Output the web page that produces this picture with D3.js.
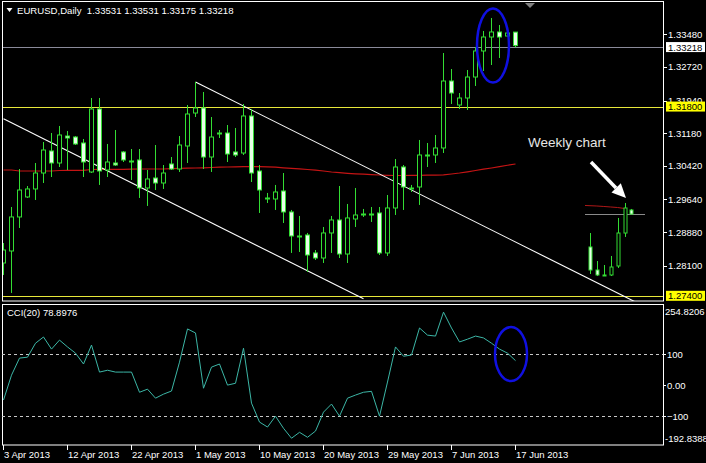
<!DOCTYPE html>
<html><head><meta charset="utf-8">
<script src="https://cdn.jsdelivr.net/npm/d3@7"></script>
<style>body{margin:0;background:#000;}svg{display:block;}</style>
</head><body><svg id="c" width="706" height="463"></svg>
<script>
// ---------------- DATA ----------------
const symbolTitle = "EURUSD,Daily";
const barOpen = [1.28163,1.28442,1.29233,1.29698,1.29884,1.30255,1.30767,1.30488,1.31115,1.31092,
 1.30953,1.30279,1.31743,1.30325,1.30488,1.30744,1.30534,1.30558,1.29907,1.30139,
 1.30023,1.30465,1.30348,1.30883,1.31650,1.31767,1.30627,1.31185,1.31185,1.30744,
 1.30720,1.31581,1.30302,1.29675,1.29651,1.29837,1.29349,1.28791,1.28814,1.28396,
 1.28279,1.28861,1.29163,1.28372,1.29186,1.29303,1.29303,1.29326,1.28396,1.29442,
 1.30395,1.29907,1.29930,1.30674,1.30674,1.30837,1.32394,1.31836,1.31999,1.32487,
 1.33092,1.33417,1.33534,1.33440,1.33531];
const barHigh = [1.28628,1.29465,1.30348,1.29953,1.30488,1.30976,1.31185,1.31348,1.31232,1.31115,
 1.31046,1.31999,1.31999,1.30930,1.31255,1.30767,1.30813,1.30813,1.30325,1.30906,
 1.30441,1.30627,1.31115,1.31836,1.32371,1.32139,1.31557,1.31255,1.31371,1.31302,
 1.31860,1.31743,1.30441,1.29791,1.29977,1.30255,1.29396,1.29256,1.28861,1.28465,
 1.29000,1.29256,1.29953,1.29535,1.29907,1.29419,1.29465,1.29465,1.29744,1.30581,
 1.30441,1.29977,1.31023,1.30953,1.31139,1.33045,1.32673,1.32115,1.32650,1.33185,
 1.33557,1.33859,1.33696,1.33520,1.33531];
const barLow = [1.27884,1.27466,1.28977,1.29675,1.29628,1.30023,1.30162,1.30395,1.30325,1.30906,
 1.30162,1.30255,1.29977,1.30162,1.30418,1.30511,1.30093,1.29675,1.29489,1.29860,
 1.29884,1.30325,1.30279,1.30488,1.31557,1.30348,1.30279,1.31069,1.30511,1.30627,
 1.30674,1.30046,1.29326,1.29558,1.29396,1.29093,1.28396,1.28419,1.27954,1.28233,
 1.28163,1.28396,1.28279,1.28163,1.29000,1.29233,1.29117,1.28349,1.28326,1.29279,
 1.29396,1.29814,1.29512,1.30395,1.30488,1.30720,1.31860,1.31743,1.31720,1.32278,
 1.32627,1.32766,1.32929,1.33430,1.33175];
const barClose = [1.28465,1.29233,1.29860,1.29884,1.30255,1.30790,1.30488,1.31139,1.31069,1.30930,
 1.30511,1.31743,1.30302,1.30511,1.30441,1.30558,1.30532,1.29907,1.30116,1.30023,
 1.30255,1.30348,1.30906,1.31627,1.31767,1.30627,1.31092,1.31183,1.30697,1.30674,
 1.31581,1.30255,1.29860,1.29673,1.29814,1.29349,1.28791,1.28768,1.28349,1.28279,
 1.28861,1.29163,1.28372,1.29210,1.29279,1.29301,1.29305,1.28396,1.29442,1.30395,
 1.29930,1.29905,1.30674,1.30676,1.30837,1.32394,1.32115,1.31999,1.32487,1.33092,
 1.33417,1.33534,1.33417,1.33510,1.33218];
const maValues = [1.30325,1.30325,1.30302,1.30302,1.30302,1.30302,1.30302,1.30313,1.30318,1.30318,
 1.30318,1.30337,1.30341,1.30341,1.30341,1.30341,1.30344,1.30348,1.30348,1.30348,
 1.30348,1.30355,1.30364,1.30367,1.30372,1.30376,1.30383,1.30390,1.30395,1.30399,
 1.30402,1.30404,1.30404,1.30399,1.30390,1.30376,1.30364,1.30353,1.30337,1.30320,
 1.30302,1.30279,1.30262,1.30248,1.30237,1.30227,1.30218,1.30209,1.30202,1.30197,
 1.30197,1.30199,1.30202,1.30204,1.30206,1.30213,1.30232,1.30255,1.30283,1.30313,
 1.30344,1.30372,1.30402,1.30435,1.30465];
const cciValues = [-48,32,87,90,135,155,116,145,123,103,
 68,129,42,48,42,42,42,-23,-13,-42,
 -29,-19,74,181,168,-10,58,68,0,6,
 119,-58,-119,-135,-100,-139,-171,-152,-168,-148,
 -87,-61,-100,-42,-32,-23,-20,-100,10,123,
 93,97,184,161,158,235,184,139,148,158,
 152,135,116,103,78.8976];
const cciPeriod = 20;
const dateTickBars = [0,8,16,24,32,40,48,56,64];
const dateTickLabels = ["3 Apr 2013","12 Apr 2013","22 Apr 2013","1 May 2013","10 May 2013","20 May 2013","29 May 2013","7 Jun 2013","17 Jun 2013"];
const priceTicks = [1.33480,1.32720,1.31940,1.31180,1.30420,1.29640,1.28880,1.28100];
const levelPrices = [1.31800,1.27400];
const bidPrice = 1.33218;
const cciLevels = [100,-100];
const cciTickValues = [100,0,-100];
const cciRange = [-192.8388,254.8206];
const trendLines = [
  {i1:0, p1:1.31515, i2:45, p2:1.27330},
  {i1:24, p1:1.32371, i2:80, p2:1.27163}
];
// weekly inset (drawn on the daily price scale)
const weeklyOpen  = [1.28535,1.28000,1.27884,1.27884,1.28093,1.28860,1.29395];
const weeklyHigh  = [1.28860,1.28209,1.28116,1.28326,1.29210,1.29558,1.29419];
const weeklyLow   = [1.27907,1.27860,1.27860,1.27860,1.28046,1.28768,1.29303];
const weeklyClose = [1.28000,1.27884,1.27882,1.28070,1.28860,1.29442,1.29300];
const weeklyMA    = [1.29500,1.29488,1.29477,1.29465,1.29453,1.29430];
const weeklyBid   = 1.29300;
const noteText = "Weekly chart";

// ---------------- SCALES ----------------
const svg = d3.select("#c");
const FONT = "Tahoma, 'Liberation Sans', Arial, sans-serif";
const plot = {x0:2, x1:663, y0:2, y1:301};
const cciBox = {y0:304.5, y1:445};
const x = d3.scaleLinear().domain([0,1]).range([3,11]);
const y = d3.scaleLinear().domain([1.33480,1.28100]).range([34.3,265.7]);
const yc = d3.scaleLinear().domain(cciRange).range([445,306]);
const xw = d3.scaleLinear().domain([0,1]).range([590,596.9]);

const bull = "#33dd33", bearFill = "#e8ffe8";
svg.append("rect").attr("width",706).attr("height",463).attr("fill","#000");

const defs = svg.append("defs");
defs.append("clipPath").attr("id","cp").append("rect")
  .attr("x",plot.x0).attr("y",plot.y0).attr("width",plot.x1-plot.x0).attr("height",plot.y1-plot.y0);
defs.append("clipPath").attr("id","cp2").append("rect")
  .attr("x",plot.x0).attr("y",cciBox.y0).attr("width",plot.x1-plot.x0).attr("height",cciBox.y1-cciBox.y0);

const main = svg.append("g").attr("clip-path","url(#cp)");

// horizontal levels
main.selectAll("line.lvl").data(levelPrices).join("line")
  .attr("x1",plot.x0).attr("x2",plot.x1)
  .attr("y1",d=>Math.round(y(d))+0.5).attr("y2",d=>Math.round(y(d))+0.5)
  .attr("stroke","#e8e83a").attr("stroke-width",1);
main.append("line").attr("x1",plot.x0).attr("x2",plot.x1)
  .attr("y1",Math.round(y(bidPrice))+1.5).attr("y2",Math.round(y(bidPrice))+1.5)
  .attr("stroke","#8a8a9a").attr("stroke-width",1);

// MA
main.append("path").datum(maValues)
  .attr("d",d3.line().x((d,i)=>x(i)+0.5).y(d=>y(d)))
  .attr("fill","none").attr("stroke","#c41414").attr("stroke-width",1.2);

// trendlines
main.selectAll("line.tl").data(trendLines).join("line")
  .attr("x1",d=>x(d.i1)+0.5).attr("y1",d=>y(d.p1))
  .attr("x2",d=>x(d.i2)+0.5).attr("y2",d=>y(d.p2))
  .attr("stroke","#ffffff").attr("stroke-width",1.1);

// candles
function candles(g, xs, O, H, L, C, bw) {
  const data = O.map((o,i)=>({i,o,h:H[i],l:L[i],c:C[i]}));
  g.selectAll("line.w").data(data).join("line").attr("class","w")
    .attr("x1",d=>Math.round(xs(d.i))+0.5).attr("x2",d=>Math.round(xs(d.i))+0.5)
    .attr("y1",d=>y(d.h)).attr("y2",d=>y(d.l))
    .attr("stroke",bull).attr("stroke-width",1);
  const bodies = data.filter(d=>Math.abs(y(d.o)-y(d.c))>=1.2);
  g.selectAll("rect.b").data(bodies).join("rect").attr("class","b")
    .attr("x",d=>Math.round(xs(d.i))-bw/2+0.5).attr("width",bw)
    .attr("y",d=>Math.min(y(d.o),y(d.c))).attr("height",d=>Math.abs(y(d.o)-y(d.c)))
    .attr("fill",d=>d.c>d.o?"#000":bearFill)
    .attr("stroke",bull).attr("stroke-width",1);
  const dojis = data.filter(d=>Math.abs(y(d.o)-y(d.c))<1.2);
  g.selectAll("line.d").data(dojis).join("line").attr("class","d")
    .attr("x1",d=>Math.round(xs(d.i))-bw/2).attr("x2",d=>Math.round(xs(d.i))+bw/2+1)
    .attr("y1",d=>Math.round(y(d.o))+0.5).attr("y2",d=>Math.round(y(d.o))+0.5)
    .attr("stroke",bull).attr("stroke-width",2);
}
candles(main.append("g"), x, barOpen, barHigh, barLow, barClose, 4);

// weekly inset
const wk = main.append("g");
wk.append("line").attr("x1",585).attr("x2",645)
  .attr("y1",Math.round(y(weeklyBid))+0.5).attr("y2",Math.round(y(weeklyBid))+0.5)
  .attr("stroke","#8a8a8a").attr("stroke-width",1);
wk.append("path").datum(weeklyMA)
  .attr("d",d3.line().x((d,i)=>xw(i)-(i===0?5:0)).y(d=>y(d)))
  .attr("fill","none").attr("stroke","#b01818").attr("stroke-width",1);
candles(wk.append("g"), xw, weeklyOpen, weeklyHigh, weeklyLow, weeklyClose, 3);

// ellipse on price
main.append("ellipse").attr("cx",x(61)+2).attr("cy",(y(barHigh[61])+y(barLow[60]))/2+1)
  .attr("rx",16).attr("ry",37).attr("fill","none").attr("stroke","#1010e0").attr("stroke-width",2.5);

// note + arrow
svg.append("text").attr("x",528).attr("y",147).text(noteText)
  .attr("fill","#e6e6e6").attr("font-family","'Liberation Sans', Arial, sans-serif").attr("font-size",13.5);
svg.append("line").attr("x1",591).attr("y1",162).attr("x2",616).attr("y2",188)
  .attr("stroke","#fff").attr("stroke-width",3.5);
svg.append("polygon").attr("points","626,198 611.5,192.5 620.8,183.2").attr("fill","#fff");

// frames
svg.append("rect").attr("x",plot.x0+0.5).attr("y",plot.y0-0.5).attr("width",plot.x1-plot.x0).attr("height",plot.y1-plot.y0+0.5)
  .attr("fill","none").attr("stroke","#fff").attr("stroke-width",1);
svg.append("rect").attr("x",plot.x0+0.5).attr("y",cciBox.y0).attr("width",plot.x1-plot.x0).attr("height",cciBox.y1-cciBox.y0)
  .attr("fill","none").attr("stroke","#fff").attr("stroke-width",1);

// shift marker
svg.append("path").attr("d","M525,3 L535,3 L530,8 Z").attr("fill","#808080");

// title
svg.append("path").attr("d","M6.5,8 L12.5,8 L9.5,12 Z").attr("fill","#fff");
const last = barOpen.length-1;
svg.append("text").attr("x",17).attr("y",14).attr("xml:space","preserve")
  .attr("fill","#fff").attr("font-family",FONT).attr("font-size",9.6)
  .text(symbolTitle+"  "+[barOpen[last],barHigh[last],barLow[last],barClose[last]].map(v=>v.toFixed(5)).join(" "));

// price axis
const pa = svg.append("g");
pa.selectAll("line").data(priceTicks).join("line")
  .attr("x1",plot.x1+0.5).attr("x2",plot.x1+4).attr("y1",d=>Math.round(y(d))+0.5).attr("y2",d=>Math.round(y(d))+0.5)
  .attr("stroke","#fff");
pa.selectAll("text").data(priceTicks).join("text")
  .attr("x",668).attr("y",d=>y(d)+3.5).text(d=>d.toFixed(5))
  .attr("fill","#fff").attr("font-family",FONT).attr("font-size",9.5);
// price boxes
const boxes = levelPrices.map(p=>({p,bg:"#ffff00",dy:0})).concat([{p:bidPrice,bg:"#ffffff",dy:1.5}]);
const bx = svg.append("g").selectAll("g").data(boxes).join("g");
bx.append("rect").attr("x",666).attr("y",d=>y(d.p)+d.dy-5).attr("width",39).attr("height",10).attr("fill",d=>d.bg);
bx.append("text").attr("x",668).attr("y",d=>y(d.p)+d.dy+3.5).text(d=>d.p.toFixed(5))
  .attr("fill","#000").attr("font-family",FONT).attr("font-size",9.5);

// CCI panel
const cg = svg.append("g").attr("clip-path","url(#cp2)");
cg.selectAll("line.lv").data(cciLevels).join("line")
  .attr("x1",plot.x0).attr("x2",plot.x1).attr("y1",d=>Math.round(yc(d))+0.5).attr("y2",d=>Math.round(yc(d))+0.5)
  .attr("stroke","#c8c8c8").attr("stroke-dasharray","3,3").attr("stroke-width",1);
cg.append("path").datum(cciValues)
  .attr("d",d3.line().x((d,i)=>x(i)+0.5).y(d=>yc(d)))
  .attr("fill","none").attr("stroke","#3cb6a6").attr("stroke-width",1);
cg.append("ellipse").attr("cx",x(63)+4).attr("cy",yc(100)).attr("rx",16).attr("ry",27)
  .attr("fill","none").attr("stroke","#1010e0").attr("stroke-width",2.5);
svg.append("text").attr("x",7).attr("y",316).text("CCI("+cciPeriod+") "+cciValues[last].toFixed(4))
  .attr("fill","#fff").attr("font-family",FONT).attr("font-size",9.5);
const ca = svg.append("g");
ca.selectAll("line").data(cciTickValues).join("line")
  .attr("x1",plot.x1+0.5).attr("x2",plot.x1+3).attr("y1",d=>Math.round(yc(d))+0.5).attr("y2",d=>Math.round(yc(d))+0.5).attr("stroke","#fff");
ca.selectAll("text.t").data(cciTickValues).join("text")
  .attr("x",667).attr("y",d=>yc(d)+3.5).text(d=>d===0?"0.00":d3.format("d")(d))
  .attr("fill","#fff").attr("font-family",FONT).attr("font-size",9.5);
ca.append("text").attr("x",665).attr("y",315).text(cciRange[1].toFixed(4))
  .attr("fill","#fff").attr("font-family",FONT).attr("font-size",9.5);
ca.append("text").attr("x",665).attr("y",442).text(cciRange[0].toFixed(4))
  .attr("fill","#fff").attr("font-family",FONT).attr("font-size",9.5);

// date axis
const da = svg.append("g");
da.selectAll("line").data(dateTickBars).join("line")
  .attr("x1",d=>x(d)+0.5).attr("x2",d=>x(d)+0.5).attr("y1",cciBox.y1).attr("y2",cciBox.y1+5).attr("stroke","#fff");
da.selectAll("text").data(dateTickBars).join("text")
  .attr("x",d=>x(d)+1).attr("y",458).text((d,i)=>dateTickLabels[i])
  .attr("fill","#fff").attr("font-family",FONT).attr("font-size",9.5);
</script></body></html>
